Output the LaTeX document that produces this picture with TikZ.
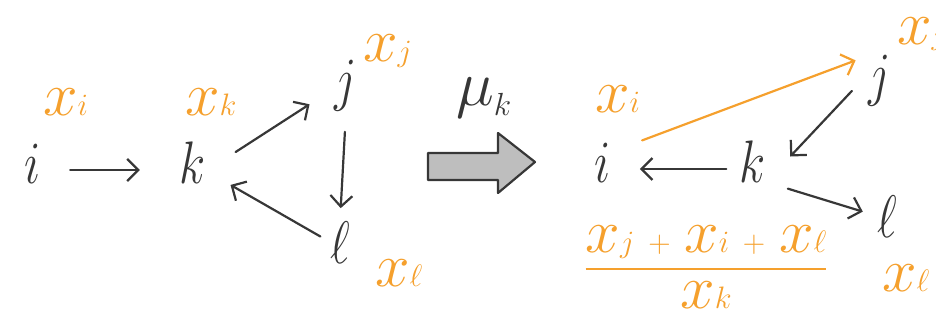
\RequirePackage{fix-cm}
\documentclass[tikz,border=0pt]{standalone}
\usepackage{graphicx}
\usetikzlibrary{arrows.meta,calc}
\definecolor{orng}{RGB}{245,160,45}
\definecolor{ink}{RGB}{55,55,55}
\definecolor{bigfill}{RGB}{190,190,190}
\newcommand{\nar}[1]{\scalebox{0.8}[1]{$#1$}}
\newcommand{\sub}[1]{{\scriptscriptstyle #1}}
\newcommand{\ox}[1]{$x\sub{#1}$}
\begin{document}
\begin{tikzpicture}[x=1pt,y=-1pt,
  letter/.style={inner sep=0pt, anchor=base, text=ink, font=\fontsize{60}{66}\selectfont},
  olabel/.style={inner sep=0pt, anchor=base west, text=orng, font=\fontsize{62}{68}\selectfont},
  arr/.style={draw=ink, line width=2.2pt, line cap=round, -{Straight Barb[length=11pt,width=22pt]}},
  oarr/.style={arr, draw=orng}]
\useasboundingbox (0,0) rectangle (936,326);

% left quiver
\node[letter] (i1) at (33,183) {\nar{i}};
\node[letter] (k1) at (193,183) {\nar{k}};
\node[letter] (j1) at (346,100) {\nar{j}};
\node[letter] (l1) at (340,263) {\nar{\ell}};
\node[olabel] (xi1) at (43,115) {\ox{i}};
\node[olabel] (xk1) at (185,115) {\ox{k}};
\node[olabel] (xj1) at (363,62) {\ox{j}};
\node[olabel] (xl1) at (375,286) {\ox{\ell}};

\draw[arr, shorten <=29pt, shorten >=40pt] ([yshift=13pt]i1.base east) -- ([yshift=13pt]k1.base west);
\draw[arr, shorten <=35pt, shorten >=30pt] ([yshift=12pt]k1.base east) -- ([yshift=12pt]j1.base west);
\draw[arr, shorten <=20pt, shorten >=13pt] (j1.south) -- (l1.north);
\draw[arr, shorten <=11pt, shorten >=28pt] ([yshift=21pt]l1.base west) -- ([yshift=12pt]k1.base east);

% mutation arrow
\node[inner sep=0pt, anchor=base west, text=ink, font=\fontsize{64}{70}\selectfont] (mu) at (456,106) {$\mu_{\scriptscriptstyle k}$};
\draw[draw=ink, fill=bigfill, line width=2.2pt, line join=round]
  (428,153) -- (498,153) -- (498,133) -- (535,162) -- (498,193) -- (498,180) -- (428,180) -- cycle;

% right quiver
\node[letter] (i2) at (603,182) {\nar{i}};
\node[letter] (k2) at (753,182) {\nar{k}};
\node[letter] (j2) at (880,95) {\nar{j}};
\node[letter] (l2) at (887,237) {\nar{\ell}};
\node[olabel] (xi2) at (595,113) {\ox{i}};
\node[olabel] (xj2) at (897,45) {\ox{j}};
\node[olabel] (xl2) at (882,291) {\ox{\ell}};
\node[inner sep=0pt, anchor=north, text=orng, font=\fontsize{62}{68}\selectfont] (frac) at (706,226)
  {\vbox{\offinterlineskip\setbox0=\hbox{$x\sub{j}\mathbin{\scriptscriptstyle+}x\sub{i}\mathbin{\scriptscriptstyle+}x\sub{\ell}$}\copy0\kern9pt\hrule height2.5pt width\wd0\kern11pt\hbox to\wd0{\hfil$x\sub{k}$\hfil}}};

\draw[arr, shorten <=13.5pt, shorten >=28.7pt] ([yshift=13pt]k2.base west) -- ([yshift=13pt]i2.base east);
\draw[oarr, shorten <=33pt, shorten >=14pt] ([yshift=30pt]i2.base east) -- (j2.north west);
\draw[arr, shorten <=24.5pt, shorten >=35pt] ([yshift=22pt]j2.base west) -- (k2.base east);
\draw[arr, shorten <=22.6pt, shorten >=14.8pt] (k2.base east) -- ([yshift=21pt]l2.base west);
\end{tikzpicture}
\end{document}
